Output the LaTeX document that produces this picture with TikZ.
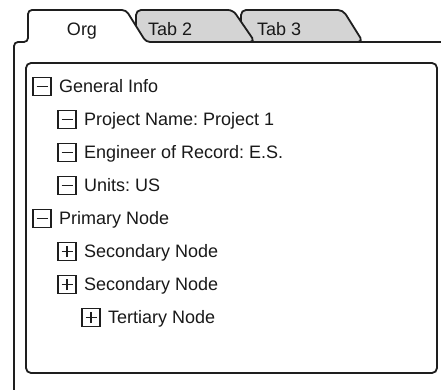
\documentclass[tikz,border=0pt]{standalone}
\usepackage{fontspec}
\setmainfont{Liberation Sans}
\usetikzlibrary{positioning}
\definecolor{frame}{RGB}{30,30,30}
\definecolor{tabgray}{RGB}{212,212,212}
\definecolor{label}{RGB}{25,25,25}
\frenchspacing

\begin{document}
\begin{tikzpicture}[x=1pt, y=-1pt, font=\fontsize{18}{22}\selectfont]
\tikzstyle{outline} = [draw=frame, line width=1.8pt, rounded corners=4pt]
\tikzstyle{tabshape} = [outline, fill=tabgray, rounded corners=5pt]
\tikzstyle{tablabel} = [text=label, inner sep=0pt]
\tikzstyle{item} = [text=label, inner sep=0pt, text height=12.6pt, text depth=0pt, anchor=west]
\tikzstyle{togglebox} = [rectangle, draw=frame, line width=1.8pt, minimum size=18pt, inner sep=0pt]
\tikzstyle{minusbox} = [togglebox, path picture={
    \draw[frame, line width=1.8pt] ([xshift=-5.5pt]path picture bounding box.center) -- ([xshift=5.5pt]path picture bounding box.center);}]
\tikzstyle{plusbox} = [togglebox, path picture={
    \draw[frame, line width=1.8pt] ([xshift=-5.5pt]path picture bounding box.center) -- ([xshift=5.5pt]path picture bounding box.center);
    \draw[frame, line width=1.8pt] ([yshift=-5.5pt]path picture bounding box.center) -- ([yshift=5.5pt]path picture bounding box.center);}]
    \useasboundingbox (0,0) rectangle (441,390);

%tabs
    \path [tabshape] (241,42) -- (241,10) -- (343,10) -- (363,42) -- cycle;
    \path [tabshape] (136,42) -- (136,10) -- (233,10) -- (255,42) -- cycle;
    \fill [white, rounded corners=4pt] (14,392) -- (14,42) -- (28,42) -- (28,10) -- (126,10) -- (146,42) -- (443,42) -- (443,392) -- cycle;
    \path [outline] (14,392) -- (14,42) -- (28,42) -- (28,10) -- (126,10) -- (146,42) -- (443,42);
    \path [outline, rounded corners=5pt] (26,63) rectangle (437,373);

    \node [tablabel, anchor=base] (org) at (82,36) {Org};
    \node [tablabel, anchor=base west] (tab2) at (148,36) {Tab 2};
    \node [tablabel, anchor=base west] (tab3) at (257,36) {Tab 3};

    % Place nodes
    \node [minusbox] (genbox) at (42,86.5) {};
    \node [item, right=7pt of genbox] (gen) {General Info};
    \node [minusbox] (projbox) at (67,119.5) {};
    \node [item, right=7pt of projbox] (proj) {Project Name: Project 1};
    \node [minusbox] (engbox) at (67,152.5) {};
    \node [item, right=7pt of engbox] (eng) {Engineer of Record: E.S.};
    \node [minusbox] (unitsbox) at (67,185.5) {};
    \node [item, right=7pt of unitsbox] (units) {Units: US};
    \node [minusbox] (primbox) at (42,218.5) {};
    \node [item, right=7pt of primbox] (prim) {Primary Node};
    \node [plusbox] (secabox) at (67,251.5) {};
    \node [item, right=7pt of secabox] (seca) {Secondary Node};
    \node [plusbox] (secbbox) at (67,284.5) {};
    \node [item, right=7pt of secbbox] (secb) {Secondary Node};
    \node [plusbox] (terbox) at (91,317.5) {};
    \node [item, right=7pt of terbox] (ter) {Tertiary Node};

\end{tikzpicture}
\end{document}
